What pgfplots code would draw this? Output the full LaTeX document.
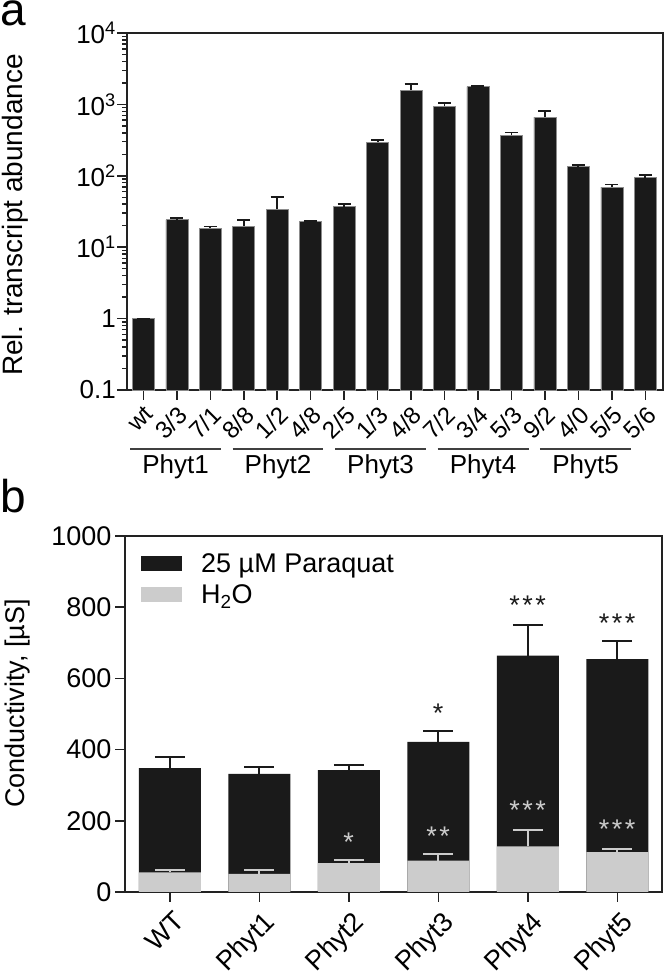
\documentclass[border=0pt]{standalone}
\usepackage{fontspec}
\setmainfont{Liberation Sans}
\usepackage{pgfplots}
\pgfplotsset{compat=1.18}
\definecolor{barblack}{HTML}{1A1A1A}
\definecolor{bargray}{HTML}{CCCCCC}
\definecolor{axcol}{HTML}{222222}
\newcommand{\st}{*\hspace{2.5pt}}
\pgfplotstableread{
x y e
0 1.0 0.0
1 24.2 1.3
2 18.3 1.2
3 19.7 4.5
4 34.1 16.7
5 22.9 0.5
6 36.8 3.2
7 296 24
8 1589 361
9 938 106
10 1770 60
11 372 33
12 664 134
13 134 9
14 69.4 6.2
15 93.8 8.2
}\transcript
\pgfplotstableread{
x y e
0 348 31
1 332 19
2 342 15
3 422 30
4 664 87
5 654 50
}\paraquat
\pgfplotstableread{
x y e
0 55 6
1 51 10
2 81 9
3 88 19
4 128 46
5 112 10
}\water
\begin{document}
\begin{tikzpicture}[x=1pt,y=1pt]
\useasboundingbox (0,0) rectangle (665,976);
\node[anchor=base west, inner sep=0, font=\fontsize{46}{50}\selectfont] at (0,950) {a};
\node[anchor=base west, inner sep=0, font=\fontsize{46}{50}\selectfont] at (0,463) {b};

\begin{axis}[
  at={(127pt,586pt)}, anchor=south west,
  scale only axis, width=536pt, height=357pt,
  ymode=log, ymin=0.1, ymax=10000, log origin y=infty,
  xmin=-0.49, xmax=15.53,
  axis line style={line width=1.5pt, axcol},
  every tick/.style={line width=1.5pt, axcol},
  tick align=outside, xtick pos=bottom, ytick pos=left,
  major tick length=10pt, minor tick length=5pt,
  ytick={0.1,1,10,100,1000,10000},
  yticklabels={0.1,1,10\textsuperscript{1},10\textsuperscript{2},10\textsuperscript{3},10\textsuperscript{4}},
  minor ytick={0.2,0.3,0.4,0.5,0.6,0.7,0.8,0.9,2,3,4,5,6,7,8,9,20,30,40,50,60,70,80,90,200,300,400,500,600,700,800,900,2000,3000,4000,5000,6000,7000,8000,9000},
  yticklabel style={font=\fontsize{26}{30}\selectfont, inner sep=1pt},
  xtick={0,...,15},
  xticklabels={wt,3/3,7/1,8/8,1/2,4/8,2/5,1/3,4/8,7/2,3/4,5/3,9/2,4/0,5/5,5/6},
  xticklabel style={font=\fontsize{24}{28}\selectfont, yshift=-3pt, rotate=45, anchor=north east, inner sep=1pt},
  ylabel={Rel. transcript abundance},
  ylabel style={font=\fontsize{28}{30}\selectfont, at={(axis description cs:-0.209,0.49)}, anchor=center, rotate=0},
  clip=false,
]
\addplot[ybar, bar width=22pt, bar shift=0pt, fill=barblack, draw=black!45, line width=0.6pt,
  error bars/.cd, y dir=plus, y explicit,
  error bar style={line width=1.8pt, barblack},
  error mark options={rotate=90, barblack, line width=1.8pt, mark size=6.5pt}]
  table[x=x, y=y, y error=e] {\transcript};
\draw[line width=1.5pt, black!75] (axis description cs:0.0056,-0.1653) -- (axis description cs:0.1754,-0.1653);
\draw[line width=1.5pt, black!75] (axis description cs:0.1969,-0.1653) -- (axis description cs:0.3666,-0.1653);
\draw[line width=1.5pt, black!75] (axis description cs:0.3881,-0.1653) -- (axis description cs:0.5578,-0.1653);
\draw[line width=1.5pt, black!75] (axis description cs:0.5793,-0.1653) -- (axis description cs:0.7491,-0.1653);
\draw[line width=1.5pt, black!75] (axis description cs:0.7705,-0.1653) -- (axis description cs:0.9403,-0.1653);
\node[font=\fontsize{26}{30}\selectfont, anchor=center, inner sep=0] at (axis description cs:0.0905,-0.2157) {Phyt1};
\node[font=\fontsize{26}{30}\selectfont, anchor=center, inner sep=0] at (axis description cs:0.2817,-0.2157) {Phyt2};
\node[font=\fontsize{26}{30}\selectfont, anchor=center, inner sep=0] at (axis description cs:0.4729,-0.2157) {Phyt3};
\node[font=\fontsize{26}{30}\selectfont, anchor=center, inner sep=0] at (axis description cs:0.6642,-0.2157) {Phyt4};
\node[font=\fontsize{26}{30}\selectfont, anchor=center, inner sep=0] at (axis description cs:0.8554,-0.2157) {Phyt5};
\end{axis}

\begin{axis}[
  at={(125pt,84pt)}, anchor=south west,
  scale only axis, width=537pt, height=356pt,
  ymin=0, ymax=1000, xmin=-0.5, xmax=5.5,
  axis line style={line width=1.5pt, axcol},
  every tick/.style={line width=1.5pt, axcol},
  tick align=outside, xtick pos=bottom, ytick pos=left,
  major tick length=10pt,
  ytick={0,200,400,600,800,1000},
  /pgf/number format/assume math mode=true,
  yticklabel style={font=\fontsize{27}{30}\selectfont, /pgf/number format/1000 sep={}},
  xtick={0,...,5},
  xticklabels={WT,Phyt1,Phyt2,Phyt3,Phyt4,Phyt5},
  xticklabel style={font=\fontsize{27}{30}\selectfont, xshift=3pt, yshift=-6pt, rotate=45, anchor=north east, inner sep=1pt},
  ylabel={Conductivity, [µS]},
  ylabel style={font=\fontsize{27}{30}\selectfont, at={(axis description cs:-0.201,0.53)}, anchor=center},
  legend style={draw=none, fill=none, at={(axis description cs:0.0298,0.955)}, anchor=north west,
    font=\fontsize{27}{30}\selectfont, row sep=9pt, column sep=18pt, inner sep=0pt,
    nodes={inner sep=1pt, anchor=west}},
  legend cell align=left,
  legend image code/.code={\fill (0pt,-7.5pt) rectangle (41pt,7.5pt);},
  clip=false,
]
\addplot[ybar, bar width=62pt, bar shift=0pt, fill=barblack, draw=none,
  error bars/.cd, y dir=plus, y explicit,
  error bar style={line width=2pt, barblack},
  error mark options={rotate=90, barblack, line width=2pt, mark size=15pt}]
  table[x=x, y=y, y error=e] {\paraquat};
\addlegendentry{25 µM Paraquat}
\addplot[ybar, bar width=62pt, bar shift=0pt, fill=bargray, draw=none,
  error bars/.cd, y dir=plus, y explicit,
  error bar style={line width=2pt, bargray},
  error mark options={rotate=90, bargray, line width=2pt, mark size=15pt}]
  table[x=x, y=y, y error=e] {\water};
\addlegendentry{H\textsubscript{2}O}
\node[font=\fontsize{27}{30}\selectfont, text=barblack] at (axis cs:3,503) {*};
\node[font=\fontsize{27}{30}\selectfont, text=barblack] at (axis cs:4,805) {\st\st*};
\node[font=\fontsize{27}{30}\selectfont, text=barblack] at (axis cs:5,756) {\st\st*};
\node[font=\fontsize{27}{30}\selectfont, text=bargray] at (axis cs:2,141) {*};
\node[font=\fontsize{27}{30}\selectfont, text=bargray] at (axis cs:3,158) {\st*};
\node[font=\fontsize{27}{30}\selectfont, text=bargray] at (axis cs:4,229) {\st\st*};
\node[font=\fontsize{27}{30}\selectfont, text=bargray] at (axis cs:5,176) {\st\st*};
\end{axis}
\end{tikzpicture}
\end{document}
